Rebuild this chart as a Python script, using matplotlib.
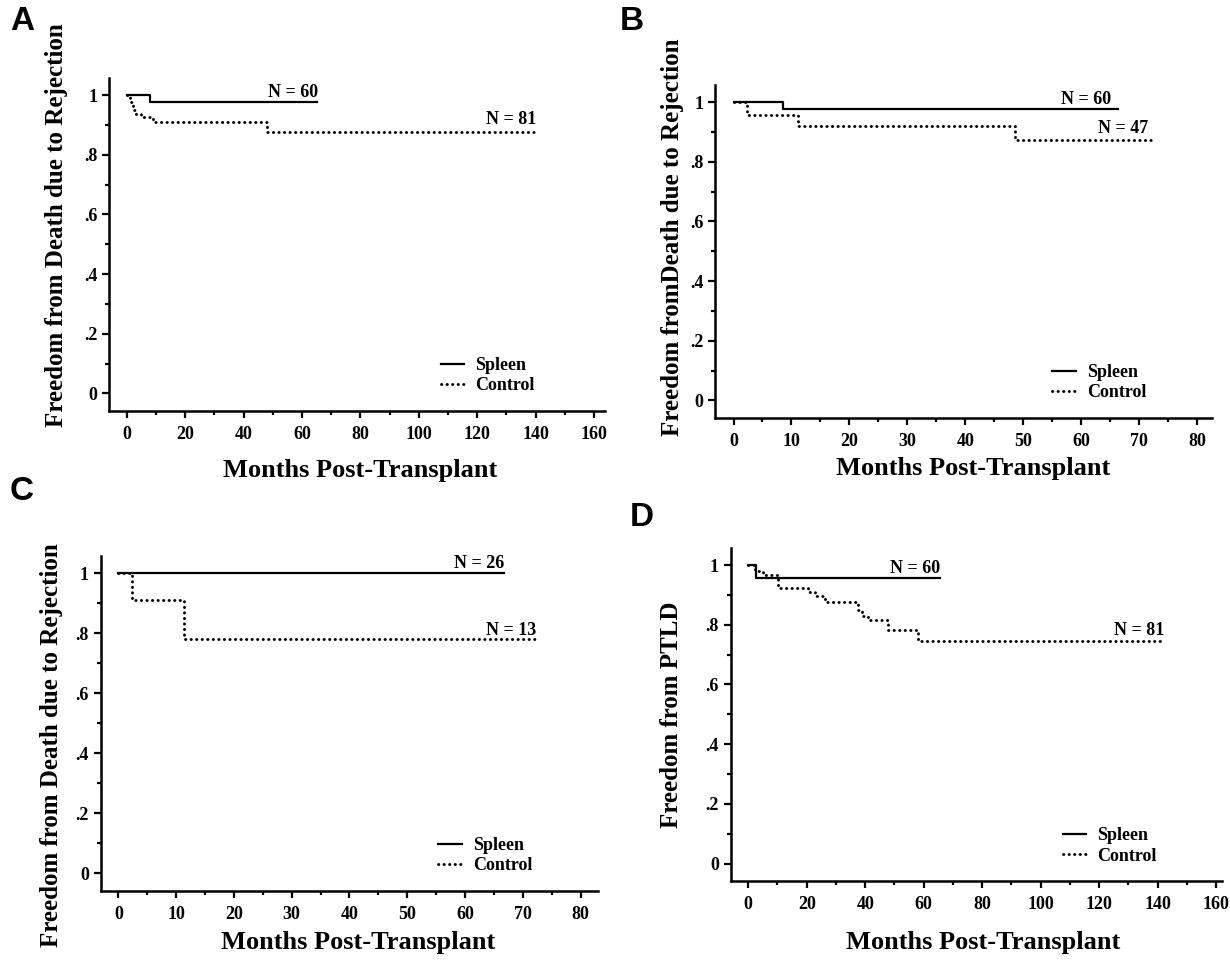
import matplotlib
matplotlib.use("Agg")
import matplotlib.pyplot as plt
from matplotlib.ticker import MultipleLocator, FuncFormatter
from matplotlib.lines import Line2D

# Panel A - death due to rejection
a_spleen_t = [0, 8, 65]
a_spleen_s = [1.0, 0.975, 0.975]
a_control_t = [0, 1, 2, 3, 5, 9, 48, 141]
a_control_s = [1.0, 0.975, 0.95, 0.937, 0.925, 0.91, 0.877, 0.877]

# Panel B
b_spleen_t = [0, 8.5, 66.3]
b_spleen_s = [1.0, 0.977, 0.977]
b_control_t = [0, 2.3, 11.2, 48.6, 72]
b_control_s = [1.0, 0.955, 0.921, 0.873, 0.873]

# Panel C
c_spleen_t = [0, 66.7]
c_spleen_s = [1.0, 1.0]
c_control_t = [0, 2.3, 11.4, 72.2]
c_control_s = [1.0, 0.909, 0.779, 0.779]

# Panel D - PTLD
d_spleen_t = [0, 2.6, 65.6]
d_spleen_s = [1.0, 0.958, 0.958]
d_control_t = [0, 2.3, 5, 10.2, 20.4, 22.8, 26.3, 37.5, 39, 41, 47.8, 58.1, 141.6]
d_control_s = [1.0, 0.98, 0.967, 0.924, 0.91, 0.895, 0.877, 0.85, 0.83, 0.816, 0.782, 0.745, 0.745]

W, H = 1230, 960
serif = "Liberation Serif"
sans = "Liberation Sans"
dotted = (0, (0.1, 1.8))

fig = plt.figure(figsize=(W / 100, H / 100), dpi=100)


def px_axes(left, top, right, bottom):
    return fig.add_axes([left / W, 1 - bottom / H, (right - left) / W, (bottom - top) / H])


def ytick_fmt(v, pos):
    if abs(v) < 1e-9:
        return "0"
    if abs(v - 1) < 1e-9:
        return "1"
    return ("%.1f" % v)[1:]


def dot_line(**kw):
    return dict(color="black", lw=2.1, ls=dotted, dash_capstyle="round", **kw)


def panel(box, xlim, xmajor, xminor, sp_t, sp_s, co_t, co_s, n_labels, leg_anchor):
    ax = px_axes(*box)
    ax.plot(sp_t, sp_s, color="black", lw=1.6, drawstyle="steps-post")
    ax.plot(co_t, co_s, drawstyle="steps-post", **dot_line())
    ax.set_xlim(*xlim)
    ax.set_ylim(-0.058, 1.057)
    for s in ["top", "right"]:
        ax.spines[s].set_visible(False)
    for s in ["left", "bottom"]:
        ax.spines[s].set_linewidth(1.8)
    ax.xaxis.set_major_locator(MultipleLocator(xmajor))
    ax.xaxis.set_minor_locator(MultipleLocator(xminor))
    ax.yaxis.set_major_locator(MultipleLocator(0.2))
    ax.yaxis.set_minor_locator(MultipleLocator(0.1))
    ax.yaxis.set_major_formatter(FuncFormatter(ytick_fmt))
    ax.tick_params(which="major", length=5, width=1.6, direction="out")
    ax.tick_params(which="minor", length=3, width=1.6, direction="out")
    ax.tick_params(axis="x", which="both", pad=6)
    for lab in ax.get_xticklabels() + ax.get_yticklabels():
        lab.set_fontfamily(serif)
        lab.set_fontweight("bold")
        lab.set_fontsize(13)
    for txt, x, y in n_labels:
        ax.text(x, y, txt, ha="center", va="center", fontfamily=serif,
                fontweight="bold", fontsize=13)
    handles = [Line2D([], [], color="black", lw=1.6),
               Line2D([], [], **dot_line())]
    ax.legend(handles, ["Spleen", "Control"], loc="lower right",
              bbox_to_anchor=leg_anchor, frameon=False, handlelength=1.3,
              handletextpad=0.6, labelspacing=0.2,
              prop={"family": serif, "weight": "bold", "size": 13})
    return ax


panel((109, 78, 605, 410.7), (-6.1, 163.8), 20, 10,
      a_spleen_t, a_spleen_s, a_control_t, a_control_s,
      [("N = 60", 57, 1.008), ("N = 81", 131.8, 0.918)], (0.89, 0.0))
panel((715, 85, 1212, 417.7), (-3.2, 82.6), 10, 5,
      b_spleen_t, b_spleen_s, b_control_t, b_control_s,
      [("N = 60", 60.9, 1.008), ("N = 47", 67.2, 0.91)], (0.9, 0.0))
panel((100.7, 556, 598, 890.7), (-3.05, 83), 10, 5,
      c_spleen_t, c_spleen_s, c_control_t, c_control_s,
      [("N = 26", 62.4, 1.031), ("N = 13", 68, 0.81)], (0.9, 0.0))
panel((730.7, 548, 1222, 881), (-6, 162), 20, 10,
      d_spleen_t, d_spleen_s, d_control_t, d_control_s,
      [("N = 60", 57, 0.99), ("N = 81", 133.5, 0.782)], (0.9, 0.0))

# axis titles
xlab = "Months Post-Transplant"
for x, y in [(360, 471), (973, 468), (358, 943), (983, 942)]:
    fig.text(x / W, 1 - y / H, xlab, ha="center", va="center",
             fontfamily=serif, fontweight="bold", fontsize=19)
ylabs = [("Freedom from Death due to Rejection", 57, 225),
         ("Freedom fromDeath due to Rejection", 672, 237),
         ("Freedom from Death due to Rejection", 52, 745),
         ("Freedom from PTLD", 672, 715)]
for txt, x, y in ylabs:
    fig.text(x / W, 1 - y / H, txt, ha="center", va="center", rotation=90,
             fontfamily=serif, fontweight="bold", fontsize=18)

# panel letters
for txt, x, y in [("A", 10, 22), ("B", 620, 22), ("C", 10, 492), ("D", 630, 517)]:
    fig.text(x / W, 1 - y / H, txt, ha="left", va="center",
             fontfamily=sans, fontweight="bold", fontsize=24)

fig.savefig("out.png", dpi=100)
